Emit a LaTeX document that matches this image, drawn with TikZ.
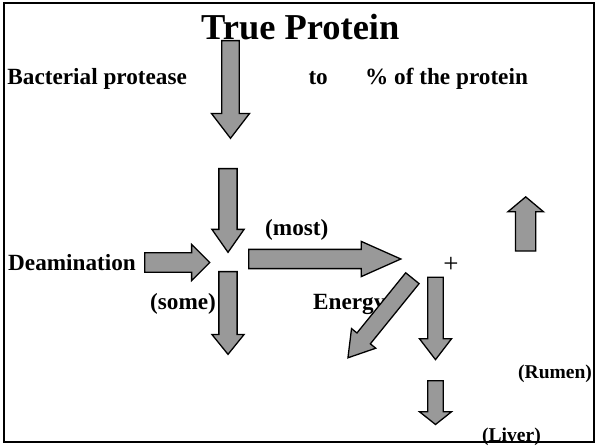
\documentclass[tikz,border=0pt]{standalone}
\usepackage{fontspec}
\setmainfont{Liberation Serif}
\usetikzlibrary{shapes.arrows}
\definecolor{arrowgray}{RGB}{153,153,153}

\begin{document}
\begin{tikzpicture}[x=1bp, y=-1bp,
    blockarrow/.style n args={5}{single arrow, draw=black, fill=arrowgray,
      line width=1.3pt, inner xsep=0pt, inner ysep=#1,
      single arrow head extend=#2, minimum height=#3,
      single arrow tip angle=#4, rotate=#5, anchor=tail},
    lbl/.style={font=\fontsize{23.3}{28}\selectfont\bfseries, inner sep=0pt, anchor=base west},
    small lbl/.style={font=\fontsize{19.6}{23}\selectfont\bfseries, inner sep=0pt, anchor=base west}]
    \useasboundingbox (0,0) rectangle (595,446);
    \draw[line width=2pt] (4,3) rectangle (594,442);
    % Titulo e textos
    \node[font=\fontsize{36.6}{40}\selectfont\bfseries, inner sep=0pt, anchor=base west] (title) at (201,39.3) {True Protein};
    \node[lbl] (protease) at (7.3,85) {Bacterial protease};
    \node[lbl] (to) at (308.3,85) {to};
    \node[lbl] (percent) at (365,85) {\% of the protein};
    \node[lbl] (deamination) at (8,271) {Deamination};
    \node[lbl] (most) at (265,236) {(most)};
    \node[lbl] (some) at (150,309) {(some)};
    \node[lbl] (energy) at (313,309) {Energy};
    \node[font=\fontsize{27}{29}\selectfont, inner sep=0pt] (plus) at (451,265) {+};
    \node[small lbl] (rumen) at (518,378.3) {(Rumen)};
    \node[small lbl] (liver) at (482,441) {(Liver)};
    % Setas em bloco
    \node[blockarrow={8.2pt}{10.2pt}{98pt}{75}{-90}] (proteolysis) at (230.5,40) {};
    \node[blockarrow={8.5pt}{7pt}{84pt}{70}{-90}] (peptides) at (228,168) {};
    \node[blockarrow={9.2pt}{8.3pt}{65.3pt}{90}{0}] (deaminflow) at (144,262.5) {};
    \node[blockarrow={8.5pt}{7pt}{83pt}{78}{-90}] (someflow) at (228,271) {};
    \node[blockarrow={9pt}{8pt}{152.7pt}{48}{0}] (mostflow) at (248,259) {};
    \node[blockarrow={8pt}{7pt}{102.8pt}{64}{231}] (energyflow) at (412.8,277.7) {};
    \node[blockarrow={7.2pt}{8.3pt}{82.6pt}{75}{-90}] (ammonia) at (435.5,276.7) {};
    \node[blockarrow={7.2pt}{8.3pt}{44pt}{103}{-90}] (liverflow) at (435.5,380) {};
    \node[blockarrow={9.5pt}{7.7pt}{54.4pt}{100}{90}] (rumenflow) at (525.7,251.7) {};
\end{tikzpicture}
\end{document}
